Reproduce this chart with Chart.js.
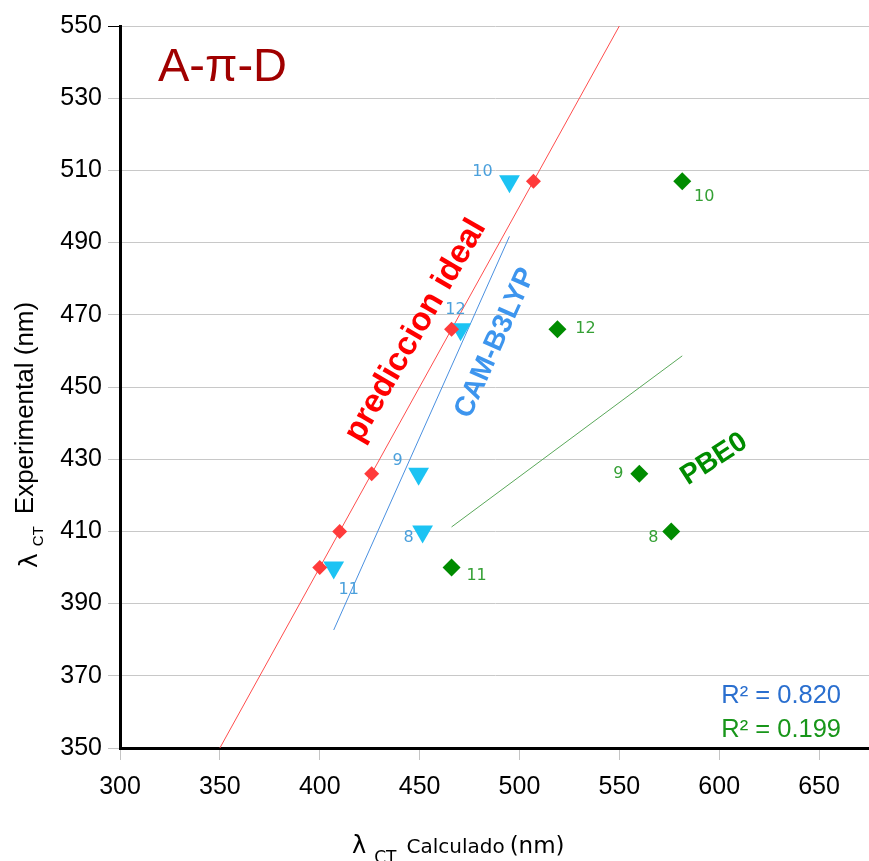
<!DOCTYPE html>
<html>
<head>
<meta charset="utf-8">
<script src="https://cdn.jsdelivr.net/npm/chart.js@4.4.0/dist/chart.umd.min.js"></script>
<style>
  html, body { margin: 0; padding: 0; background: #fff; }
  canvas { display: block; }
</style>
</head>
<body>
<canvas id="chart" width="869" height="861"></canvas>
<script>
// Data (compounds 8..12)
const compounds = ['8', '9', '10', '11', '12'];
const experimental = [410, 426, 507, 400, 466];
const camB3lyp = [451.5, 449.5, 495, 407, 470.5];
const pbe0 = [576, 560, 581.5, 466, 519];
const idealRange = [350, 550];
const xTicks = [300, 350, 400, 450, 500, 550, 600, 650];
const yTicks = [350, 370, 390, 410, 430, 450, 470, 490, 510, 530, 550];
const r2Labels = ['R² = 0.820', 'R² = 0.199'];

// where the compound numbers sit, relative to their marker (px)
const labelOffsets = {
  cam: { '8': [-14, 6], '9': [-21, -13], '10': [-27, -9], '11': [15, 22], '12': [-5, -19] },
  pbe0: { '8': [-18, 6], '9': [-21, 0], '10': [22, 16], '11': [25, 8], '12': [28, 0] }
};

// least squares line over the data range
function trend(xs, ys) {
  const n = xs.length;
  const mx = xs.reduce((a, b) => a + b, 0) / n;
  const my = ys.reduce((a, b) => a + b, 0) / n;
  let sxy = 0, sxx = 0;
  xs.forEach((v, i) => { sxy += (v - mx) * (ys[i] - my); sxx += (v - mx) * (v - mx); });
  const m = sxy / sxx, b = my - m * mx;
  const lo = Math.min(...xs), hi = Math.max(...xs);
  return [{ x: lo, y: m * lo + b }, { x: hi, y: m * hi + b }];
}

const pts = (xs, ys) => xs.map((v, i) => ({ x: v, y: ys[i] }));

const annotations = {
  id: 'annotations',
  afterDatasetsDraw(chart) {
    const { ctx, scales: { x, y } } = chart;
    ctx.save();

    // compound numbers
    ctx.font = '16px "DejaVu Sans"';
    ctx.textAlign = 'center';
    ctx.textBaseline = 'middle';
    compounds.forEach((c, i) => {
      let o = labelOffsets.cam[c];
      ctx.fillStyle = '#4ba0dc';
      ctx.fillText(c, x.getPixelForValue(camB3lyp[i]) + o[0], y.getPixelForValue(experimental[i]) + o[1]);
      o = labelOffsets.pbe0[c];
      ctx.fillStyle = '#35a035';
      ctx.fillText(c, x.getPixelForValue(pbe0[i]) + o[0], y.getPixelForValue(experimental[i]) + o[1]);
    });

    // rotated series names
    const rotText = (text, vx, vy, deg, font, color) => {
      ctx.save();
      ctx.translate(x.getPixelForValue(vx), y.getPixelForValue(vy));
      ctx.rotate(deg * Math.PI / 180);
      ctx.font = font;
      ctx.fillStyle = color;
      ctx.textAlign = 'center';
      ctx.textBaseline = 'middle';
      ctx.fillText(text, 0, 0);
      ctx.restore();
    };
    rotText('prediccion ideal', 448, 465.6, -60, 'bold 33px "Liberation Sans"', '#ff0000');
    rotText('CAM-B3LYP', 488, 462.2, -66, 'bold 28px "Liberation Sans"', '#3d95ee');
    rotText('PBE0', 597.5, 430, -33, 'bold 28px "Liberation Sans"', '#008c00');

    // title
    ctx.textAlign = 'left';
    ctx.textBaseline = 'alphabetic';
    ctx.font = '47px "Liberation Sans"';
    ctx.fillStyle = '#a00000';
    ctx.fillText('A-π-D', x.getPixelForValue(319), y.getPixelForValue(534.7));

    // R² boxes
    ctx.textAlign = 'right';
    ctx.font = '25.5px "Liberation Sans"';
    ctx.fillStyle = '#2a6fcf';
    ctx.fillText(r2Labels[0], x.getPixelForValue(661), y.getPixelForValue(362.5));
    ctx.fillStyle = '#18961a';
    ctx.fillText(r2Labels[1], x.getPixelForValue(661), y.getPixelForValue(353.1));

    // axis titles with subscripts
    const runs = (list) => {
      let pos = 0;
      list.forEach(r => {
        pos += r.gap || 0;
        ctx.font = r.font;
        ctx.fillText(r.text, pos, r.dy || 0);
        pos += ctx.measureText(r.text).width;
      });
    };
    ctx.fillStyle = '#000';
    ctx.textAlign = 'left';
    ctx.save();
    ctx.translate(352, 853);
    runs([
      { text: 'λ', font: '24px "DejaVu Sans"' },
      { text: 'CT', font: '17px "DejaVu Sans"', gap: 8, dy: 10 },
      { text: 'Calculado', font: '20px "DejaVu Sans"', gap: 10 },
      { text: '(nm)', font: '23px "DejaVu Sans"', gap: 5 }
    ]);
    ctx.restore();

    ctx.save();
    ctx.translate(35, 568);
    ctx.rotate(-Math.PI / 2);
    runs([
      { text: 'λ', font: '25px "DejaVu Sans"', dy: 2 },
      { text: 'CT', font: '15px "Liberation Sans"', gap: 7, dy: 8 },
      { text: 'Experimental (nm)', font: '26px "Liberation Sans"', gap: 12, dy: -2 }
    ]);
    ctx.restore();

    ctx.restore();
  }
};

Chart.defaults.font.family = '"Liberation Sans", Arial, sans-serif';

new Chart(document.getElementById('chart'), {
  type: 'scatter',
  data: {
    datasets: [
      {
        label: 'prediccion ideal',
        data: pts(experimental, experimental),
        pointStyle: 'rectRot',
        pointRadius: 7.5,
        backgroundColor: '#ff3b3b',
        borderWidth: 0,
        order: 0
      },
      {
        label: 'CAM-B3LYP',
        data: pts(camB3lyp, experimental),
        pointStyle: 'triangle',
        rotation: 180,
        pointRadius: 12,
        backgroundColor: '#1cc3f3',
        borderWidth: 0,
        order: 1
      },
      {
        label: 'PBE0',
        data: pts(pbe0, experimental),
        pointStyle: 'rectRot',
        pointRadius: 9,
        backgroundColor: '#008c00',
        borderWidth: 0,
        order: 2
      },
      {
        label: 'ideal line',
        data: pts(idealRange, idealRange),
        showLine: true,
        pointRadius: 0,
        borderColor: '#ff4d4d',
        borderWidth: 1,
        order: 3
      },
      {
        label: 'CAM-B3LYP fit',
        data: trend(camB3lyp, experimental),
        showLine: true,
        pointRadius: 0,
        borderColor: '#4a90e0',
        borderWidth: 1,
        order: 4
      },
      {
        label: 'PBE0 fit',
        data: trend(pbe0, experimental),
        showLine: true,
        pointRadius: 0,
        borderColor: '#5aa85a',
        borderWidth: 1,
        order: 5
      }
    ]
  },
  options: {
    responsive: false,
    animation: false,
    events: [],
    layout: { autoPadding: false, padding: { top: 26, right: 0, left: 0, bottom: 0 } },
    plugins: {
      legend: { display: false },
      tooltip: { enabled: false }
    },
    scales: {
      x: {
        type: 'linear',
        min: 300,
        max: 675,
        afterBuildTicks: s => { s.ticks = xTicks.map(v => ({ value: v })); },
        afterFit: s => { s.height = 113; },
        ticks: {
          color: '#000',
          font: { size: 25 },
          padding: 12
        },
        grid: {
          drawOnChartArea: false,
          tickLength: 12,
          tickColor: '#c4c4c4'
        },
        border: { color: '#000', width: 3 }
      },
      y: {
        min: 350,
        max: 550,
        afterBuildTicks: s => { s.ticks = yTicks.map(v => ({ value: v })); },
        afterFit: s => { s.width = 120; },
        ticks: {
          color: '#000',
          font: { size: 25 },
          padding: 6
        },
        grid: {
          color: '#c8c8c8',
          tickLength: 12,
          tickColor: c => (c.tick && c.tick.value === 550 ? '#000' : '#c4c4c4')
        },
        border: { color: '#000', width: 3 }
      }
    }
  },
  plugins: [annotations]
});
</script>
</body>
</html>
